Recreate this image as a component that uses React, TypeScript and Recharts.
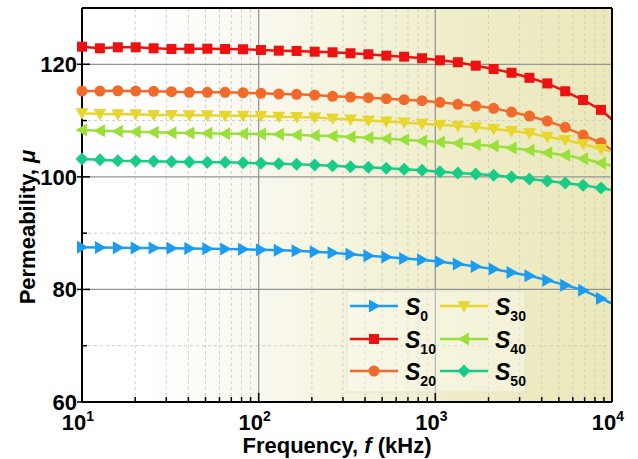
import React from 'react';
import { LineChart, Line, XAxis, YAxis, ReferenceLine, ReferenceArea } from 'recharts';

// frequency points (kHz)
const freq = [10, 12.63, 15.95, 20.14, 25.43, 32.1, 40.5, 51.2, 64.6, 81.6, 103, 130, 164, 207.5, 262, 331, 418, 528, 666, 841, 1062, 1341, 1693, 2138, 2700, 3408, 4303, 5434, 6861, 8662, 10000];

const s0 = [87.5, 87.45, 87.4, 87.38, 87.35, 87.3, 87.27, 87.22, 87.18, 87.12, 87.05, 86.95, 86.85, 86.7, 86.5, 86.25, 85.97, 85.74, 85.51, 85.26, 84.91, 84.5, 84.09, 83.61, 83.02, 82.42, 81.65, 80.76, 79.87, 78.4, 77.5];
const s10 = [123.13, 122.84, 123.02, 123.02, 122.84, 122.72, 122.77, 122.77, 122.72, 122.67, 122.54, 122.42, 122.37, 122.24, 122.13, 121.96, 121.78, 121.53, 121.35, 121.07, 120.71, 120.36, 119.75, 119.16, 118.5, 117.6, 116.6, 115.2, 113.65, 111.9, 110.2];
const s20 = [115.25, 115.25, 115.3, 115.25, 115.2, 115.13, 115.02, 115.02, 115.02, 114.95, 114.84, 114.72, 114.67, 114.54, 114.31, 114.19, 114.06, 113.88, 113.71, 113.53, 113.24, 112.89, 112.59, 112.18, 111.52, 110.81, 109.92, 108.8, 107.43, 106.06, 104.76];
const s30 = [111.29, 111.16, 111.11, 111.11, 110.99, 110.99, 110.93, 110.93, 110.86, 110.86, 110.81, 110.68, 110.63, 110.55, 110.38, 110.2, 110.02, 109.84, 109.65, 109.45, 109.25, 109.03, 108.8, 108.5, 108.14, 107.73, 107.13, 106.54, 105.83, 104.94, 104.46];
const s40 = [108.32, 108.2, 108.09, 108.02, 107.91, 107.84, 107.79, 107.73, 107.66, 107.66, 107.61, 107.56, 107.45, 107.35, 107.25, 107.08, 106.95, 106.77, 106.6, 106.36, 106.19, 105.96, 105.71, 105.48, 105.12, 104.71, 104.3, 103.82, 103.22, 102.46, 101.97];
const s50 = [103.16, 103.04, 102.86, 102.81, 102.76, 102.68, 102.63, 102.58, 102.58, 102.51, 102.4, 102.33, 102.22, 102.12, 101.97, 101.8, 101.69, 101.51, 101.33, 101.16, 100.91, 100.68, 100.5, 100.27, 99.96, 99.61, 99.25, 98.9, 98.49, 98.0, 97.65];

const xMajor = [10, 100, 1000, 10000];
const xMinor = [20, 30, 40, 50, 60, 70, 80, 90, 200, 300, 400, 500, 600, 700, 800, 900, 2000, 3000, 4000, 5000, 6000, 7000, 8000, 9000];
const yMajor = [60, 80, 100, 120];
const yMinor = [70, 90, 110, 130];

const FONT = '"Liberation Sans", Arial, sans-serif';

const SERIES = [
  { key: 's0', sub: '0', color: '#1c9cf0', shape: 'right' },
  { key: 's10', sub: '10', color: '#ee1111', shape: 'square' },
  { key: 's20', sub: '20', color: '#f26a2b', shape: 'circle' },
  { key: 's30', sub: '30', color: '#e6d62e', shape: 'down' },
  { key: 's40', sub: '40', color: '#9be03a', shape: 'left' },
  { key: 's50', sub: '50', color: '#17cc86', shape: 'diamond' },
];

const data = freq.map((f, i) => ({ f, s0: s0[i], s10: s10[i], s20: s20[i], s30: s30[i], s40: s40[i], s50: s50[i] }));

const xTicks = [...xMajor, ...xMinor].sort((a, b) => a - b);
const yTicks = [...yMajor, ...yMinor].sort((a, b) => a - b);

const Marker = ({ shape, cx, cy, color }: any) => {
  switch (shape) {
    case 'right':
      return <polygon points={`${cx - 5},${cy - 6.5} ${cx + 6.5},${cy} ${cx - 5},${cy + 6.5}`} fill={color} />;
    case 'square':
      return <rect x={cx - 5} y={cy - 5} width={10} height={10} fill={color} />;
    case 'circle':
      return <circle cx={cx} cy={cy} r={5.5} fill={color} />;
    case 'down':
      return <polygon points={`${cx - 6.5},${cy - 5} ${cx + 6.5},${cy - 5} ${cx},${cy + 6.5}`} fill={color} />;
    case 'left':
      return <polygon points={`${cx + 5},${cy - 6.5} ${cx - 6.5},${cy} ${cx + 5},${cy + 6.5}`} fill={color} />;
    default:
      return <polygon points={`${cx},${cy - 6.5} ${cx + 6.5},${cy} ${cx},${cy + 6.5} ${cx - 6.5},${cy}`} fill={color} />;
  }
};

const XTick = ({ x, y, payload }: any) => {
  const v = payload.value;
  const major = xMajor.includes(v);
  return (
    <g>
      <line x1={x} x2={x} y1={y} y2={y - (major ? 9 : 5)} stroke="#000" strokeWidth={1.5} />
      {major && (
        <text x={x - 4} y={y + 28} textAnchor="middle" fontFamily={FONT} fontWeight="bold" fontSize={22} fill="#000">
          10
          <tspan dy={-9} fontSize={14}>{Math.round(Math.log10(v))}</tspan>
        </text>
      )}
    </g>
  );
};

const YTick = ({ x, y, payload }: any) => {
  const v = payload.value;
  const major = yMajor.includes(v);
  return (
    <g>
      <line x1={major ? x - 5 : x} x2={x + (major ? 8 : 5)} y1={y} y2={y} stroke="#000" strokeWidth={1.5} />
      {major && (
        <text x={x - 5} y={y + 8} textAnchor="end" fontFamily={FONT} fontWeight="bold" fontSize={22} fill="#000">
          {v}
        </text>
      )}
    </g>
  );
};

const LegendOverlay = () => {
  const rows = [306, 339, 371];
  const cols = [{ x1: 350, x2: 398, tx: 405 }, { x1: 440, x2: 488, tx: 495 }];
  return (
    <svg width={638} height={459} style={{ position: 'absolute', left: 0, top: 0, pointerEvents: 'none' }}>
      <rect x={347} y={291} width={178} height={101} fill="#ffffff" fillOpacity={0.35} stroke="#e6e4d0" strokeWidth={1} />
      {SERIES.map((s, i) => {
        const c = cols[Math.floor(i / 3)];
        const y = rows[i % 3];
        return (
          <g key={s.key}>
            <line x1={c.x1} x2={c.x2} y1={y} y2={y} stroke={s.color} strokeWidth={2.5} />
            <Marker shape={s.shape} cx={(c.x1 + c.x2) / 2} cy={y} color={s.color} />
            <text x={c.tx} y={y + 9} fontFamily={FONT} fontWeight="bold" fontSize={23} fill="#000">
              <tspan fontStyle="italic">S</tspan>
              <tspan dy={6} fontSize={14}>{s.sub}</tspan>
            </text>
          </g>
        );
      })}
      <text x={337} y={453} textAnchor="middle" fontFamily={FONT} fontWeight="bold" fontSize={22} fill="#000">
        Frequency, <tspan fontStyle="italic">f</tspan> (kHz)
      </text>
      <text x={35} y={227} textAnchor="middle" transform="rotate(-90 35 227)" fontFamily={FONT} fontWeight="bold" fontSize={22} fill="#000">
        Permeability, <tspan fontStyle="italic">μ</tspan>
      </text>
    </svg>
  );
};

export default function App() {
  return (
    <div style={{ position: 'absolute', left: 0, top: 0, width: 638, height: 459, background: '#fff' }}>
      <svg width={0} height={0} style={{ position: 'absolute' }}>
        <defs>
          <linearGradient id="bgGrad" x1="0" y1="0" x2="1" y2="0">
            <stop offset="0%" stopColor="#ffffff" />
            <stop offset="12%" stopColor="#ffffff" />
            <stop offset="33%" stopColor="#f9f8ef" />
            <stop offset="50%" stopColor="#f5f4dd" />
            <stop offset="67%" stopColor="#f0eecb" />
            <stop offset="100%" stopColor="#ebe8b9" />
          </linearGradient>
        </defs>
      </svg>
      <LineChart width={638} height={459} data={data} margin={{ top: 8, right: 26, bottom: 0, left: 0 }}>
        <ReferenceArea x1={10} x2={10000} y1={60} y2={130} fill="url(#bgGrad)" fillOpacity={1} stroke="none" />
        {xMinor.map(v => (
          <ReferenceLine key={`xm-${v}`} x={v} stroke="#cfcfc8" strokeDasharray="3 3" strokeWidth={1} />
        ))}
        {yMinor.slice(0, 3).map(v => (
          <ReferenceLine key={`ym-${v}`} y={v} stroke="#cfcfc8" strokeDasharray="3 3" strokeWidth={1} />
        ))}
        {xMajor.slice(1, 3).map(v => (
          <ReferenceLine key={`xM-${v}`} x={v} stroke="#959595" strokeWidth={1.3} />
        ))}
        {yMajor.slice(1).map(v => (
          <ReferenceLine key={`yM-${v}`} y={v} stroke="#959595" strokeWidth={1.3} />
        ))}
        <XAxis
          dataKey="f"
          type="number"
          scale="log"
          domain={[10, 10000]}
          ticks={xTicks}
          interval={0}
          height={57}
          tickSize={0}
          tickMargin={0}
          tickLine={false}
          axisLine={{ stroke: '#000', strokeWidth: 2 }}
          tick={<XTick />}
        />
        <YAxis
          type="number"
          domain={[60, 130]}
          ticks={yTicks}
          interval={0}
          width={82}
          tickSize={0}
          tickMargin={0}
          tickLine={false}
          axisLine={{ stroke: '#000', strokeWidth: 2 }}
          tick={<YTick />}
        />
        {SERIES.map(s => (
          <Line
            key={s.key}
            dataKey={s.key}
            type="linear"
            stroke={s.color}
            strokeWidth={2.5}
            isAnimationActive={false}
            dot={(p: any) =>
              p.payload.f === 10000 ? (
                <g key={`${s.key}-${p.index}`} />
              ) : (
                <g key={`${s.key}-${p.index}`}>
                  <Marker shape={s.shape} cx={p.cx} cy={p.cy} color={s.color} />
                </g>
              )
            }
            activeDot={false}
          />
        ))}
        <ReferenceLine y={130} stroke="#000" strokeWidth={2} />
        <ReferenceLine x={10000} stroke="#000" strokeWidth={2} />
      </LineChart>
      <LegendOverlay />
    </div>
  );
}
